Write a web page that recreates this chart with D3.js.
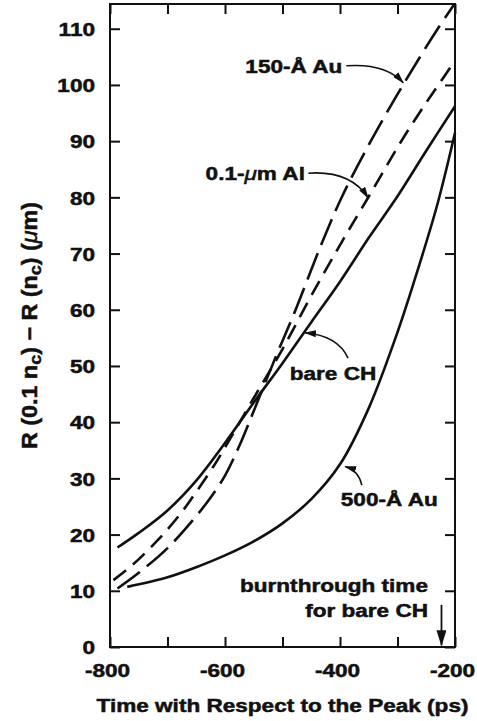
<!DOCTYPE html>
<html>
<head>
<meta charset="utf-8">
<script src="https://cdn.jsdelivr.net/npm/d3@7"></script>
<style>
  body { margin: 0; background: #fff; }
  svg { display: block; }
  text { font-family: "Liberation Sans", Arial, sans-serif; font-weight: 700; fill: #111; }
</style>
</head>
<body>
<svg id="chart" width="477" height="721"></svg>
<script>
// ---- data ----
// time with respect to the peak (ps)
const xTicks = [-800, -700, -600, -500, -400, -300, -200];
const xLabels = [-800, -600, -400, -200];
const yTicks = [0, 10, 20, 30, 40, 50, 60, 70, 80, 90, 100, 110];

// [time (ps), R(0.1 nc) - R(nc) (um)]
const bareCH = [
  [-787, 17.7], [-750, 20.3], [-700, 24.3], [-650, 29.6], [-600, 36.3], [-550, 43.5],
  [-500, 50.5], [-450, 57.8], [-400, 65.0], [-350, 72.8], [-300, 80.2], [-250, 88.3], [-200, 96.2]
];
const au500 = [
  [-770, 10.7], [-700, 12.4], [-650, 14.2], [-600, 16.3], [-550, 18.8], [-500, 22.0],
  [-450, 26.3], [-400, 32.5], [-350, 42.5], [-300, 56.0], [-262, 68.0], [-230, 79.0],
  [-200, 91.5]
];
const au150 = [
  [-787, 10.4], [-750, 13.2], [-700, 17.6], [-650, 23.3], [-625, 26.6], [-600, 30.5],
  [-575, 35.8], [-550, 42.0], [-511, 51.8], [-480, 59.3], [-433, 71.5], [-398, 79.8],
  [-355, 88.4], [-306, 97.3], [-262, 104.8], [-230, 110.0], [-201, 114.4]
];
const al01 = [
  [-794, 11.9], [-761, 14.6], [-717, 19.0], [-679, 23.5], [-650, 27.6], [-619, 32.3],
  [-600, 35.5], [-550, 44.3], [-500, 53.0], [-450, 62.5], [-395, 72.4], [-352, 79.8],
  [-294, 89.9], [-262, 95.0], [-233, 99.4], [-202, 104.0]
];

const series = [
  { name: 'bare CH', values: bareCH, dash: null },
  { name: '500-Å Au', values: au500, dash: null },
  { name: '150-Å Au', values: au150, dash: '28,9' },
  { name: '0.1-μm Al', values: al01, dash: '16,9' }
];

// labels with curved pointer arrows, all in data units
const notes = [
  { text: ['150-Å Au'], at: [-396, 102.1], anchor: 'end',
    arrow: [[-389, 103.4], [-322, 103.9], [-290, 100.4]] },
  { text: ['0.1-', { t: 'μ', italic: true }, 'm Al'], at: [-461, 83.1], anchor: 'end',
    arrow: [[-455, 84.3], [-382, 84.8], [-351, 79.9]] },
  { text: ['bare CH'], at: [-337, 47.5], anchor: 'end',
    arrow: [[-386, 51.4], [-404, 55.4], [-461, 55.9]] },
  { text: ['500-Å Au'], at: [-230, 25.1], anchor: 'end',
    arrow: [[-362, 28.8], [-368, 31.4], [-391, 32.1]] }
];
const burnLines = ['burnthrough time', 'for bare CH'];
const burnAt = [-247, 9.8];
const burnTime = -223.5;

// ---- layout ----
const svg = d3.select('#chart');
const plot = { left: 110, right: 455, top: 4, bottom: 647 };
const sx = 1.22; // the print face is wide; stretch text horizontally

const x = d3.scaleLinear().domain([-800, -200]).range([plot.left, plot.right]);
const y = d3.scaleLinear().domain([0, 114.4]).range([plot.bottom, plot.top]);

const defs = svg.append('defs');
defs.append('marker')
  .attr('id', 'head')
  .attr('markerUnits', 'userSpaceOnUse')
  .attr('viewBox', '0 0 12 8')
  .attr('refX', 11).attr('refY', 4)
  .attr('markerWidth', 12).attr('markerHeight', 8)
  .attr('orient', 'auto')
  .append('path').attr('d', 'M0,0.5 L12,4 L0,7.5 Z').attr('fill', '#111');
defs.append('marker')
  .attr('id', 'bighead')
  .attr('markerUnits', 'userSpaceOnUse')
  .attr('viewBox', '0 0 16 10')
  .attr('refX', 15).attr('refY', 5)
  .attr('markerWidth', 16).attr('markerHeight', 10)
  .attr('orient', 'auto')
  .append('path').attr('d', 'M0,0 L16,5 L0,10 Z').attr('fill', '#111');

// ticks on all four sides, pointing inward
function styleAxis(g) {
  g.select('.domain').remove();
  g.selectAll('.tick line').attr('stroke', '#111').attr('stroke-width', 2);
  g.selectAll('text').style('font-family', '"Liberation Sans", Arial, sans-serif')
    .style('font-weight', 700).attr('fill', '#111')
    .attr('stroke', '#111').attr('stroke-width', 0.5);
}

const fmt = (d) => (d < 0 ? '-' + Math.abs(d) : String(d));

svg.append('g')
  .attr('transform', `translate(0,${plot.bottom})`)
  .call(d3.axisBottom(x).tickValues(xTicks).tickSize(-10)
    .tickFormat((d) => (xLabels.includes(d) ? fmt(d) : '')))
  .call(styleAxis)
  .call((g) => g.selectAll('text')
    .attr('x', -3 / sx).attr('y', 29.7).attr('dy', 0).attr('font-size', 18.5)
    .attr('transform', `scale(${sx},1)`));

svg.append('g')
  .attr('transform', `translate(0,${plot.top})`)
  .call(d3.axisTop(x).tickValues(xTicks).tickSize(-10).tickFormat(''))
  .call(styleAxis);

svg.append('g')
  .attr('transform', `translate(${plot.left},0)`)
  .call(d3.axisLeft(y).tickValues(yTicks).tickSize(-10).tickFormat(fmt))
  .call(styleAxis)
  .call((g) => g.selectAll('text')
    .attr('x', -15 / sx).attr('dy', '0.36em').attr('font-size', 18.5)
    .attr('transform', `scale(${sx},1)`));

svg.append('g')
  .attr('transform', `translate(${plot.right},0)`)
  .call(d3.axisRight(y).tickValues(yTicks).tickSize(-10).tickFormat(''))
  .call(styleAxis);

// frame
svg.append('rect')
  .attr('x', plot.left).attr('y', plot.top)
  .attr('width', plot.right - plot.left).attr('height', plot.bottom - plot.top)
  .attr('fill', 'none').attr('stroke', '#111').attr('stroke-width', 2);

// curves
const line = d3.line()
  .x((d) => x(d[0]))
  .y((d) => y(d[1]))
  .curve(d3.curveCatmullRom.alpha(0.5));

svg.append('g').attr('class', 'curves')
  .selectAll('path')
  .data(series)
  .join('path')
  .attr('d', (d) => line(d.values))
  .attr('fill', 'none')
  .attr('stroke', '#111')
  .attr('stroke-width', 2.6)
  .attr('stroke-linecap', 'butt')
  .attr('stroke-dasharray', (d) => d.dash);

// labels
function addText(g, parts, px, py, anchor) {
  const t = g.append('text')
    .attr('transform', `translate(${px},${py}) scale(${sx},1)`)
    .attr('text-anchor', anchor)
    .attr('font-size', 18.5)
    .attr('stroke', '#111')
    .attr('stroke-width', 0.5);
  parts.forEach((p) => {
    if (typeof p === 'string') t.append('tspan').text(p);
    else t.append('tspan').text(p.t).attr('font-style', 'italic').attr('font-weight', 400);
  });
  return t;
}

const notesG = svg.append('g').attr('class', 'notes');
notes.forEach((n) => {
  addText(notesG, n.text, x(n.at[0]), y(n.at[1]), n.anchor);
  const [s, c, e] = n.arrow;
  notesG.append('path')
    .attr('d', `M${x(s[0])},${y(s[1])} Q${x(c[0])},${y(c[1])} ${x(e[0])},${y(e[1])}`)
    .attr('fill', 'none')
    .attr('stroke', '#111')
    .attr('stroke-width', 1.6)
    .attr('marker-end', 'url(#head)');
});

burnLines.forEach((l, i) => {
  addText(notesG, [l], x(burnAt[0]), y(burnAt[1]) + i * 25, 'end');
});
notesG.append('line')
  .attr('x1', x(burnTime)).attr('x2', x(burnTime))
  .attr('y1', y(7.5)).attr('y2', y(0.3))
  .attr('stroke', '#111').attr('stroke-width', 1.8)
  .attr('marker-end', 'url(#bighead)');

// axis titles
svg.append('text')
  .attr('transform', `translate(${(plot.left + plot.right) / 2},712) scale(${sx},1)`)
  .attr('text-anchor', 'middle')
  .attr('font-size', 18.5)
  .attr('stroke', '#111')
  .attr('stroke-width', 0.5)
  .text('Time with Respect to the Peak (ps)');

const yTitle = svg.append('text')
  .attr('transform', `translate(36.5,${(plot.top + plot.bottom) / 2}) rotate(-90) scale(1.06,1)`)
  .attr('text-anchor', 'middle')
  .attr('font-size', 22)
  .attr('stroke', '#111')
  .attr('stroke-width', 0.5);
yTitle.append('tspan').text('R (0.1 n');
yTitle.append('tspan').text('c').attr('font-size', 17).attr('dy', 4);
yTitle.append('tspan').text(') − R (n').attr('dy', -4);
yTitle.append('tspan').text('c').attr('font-size', 17).attr('dy', 4);
yTitle.append('tspan').text(') (').attr('dy', -4);
yTitle.append('tspan').text('μ').attr('font-style', 'italic').attr('font-weight', 400);
yTitle.append('tspan').text('m)');
</script>
</body>
</html>
